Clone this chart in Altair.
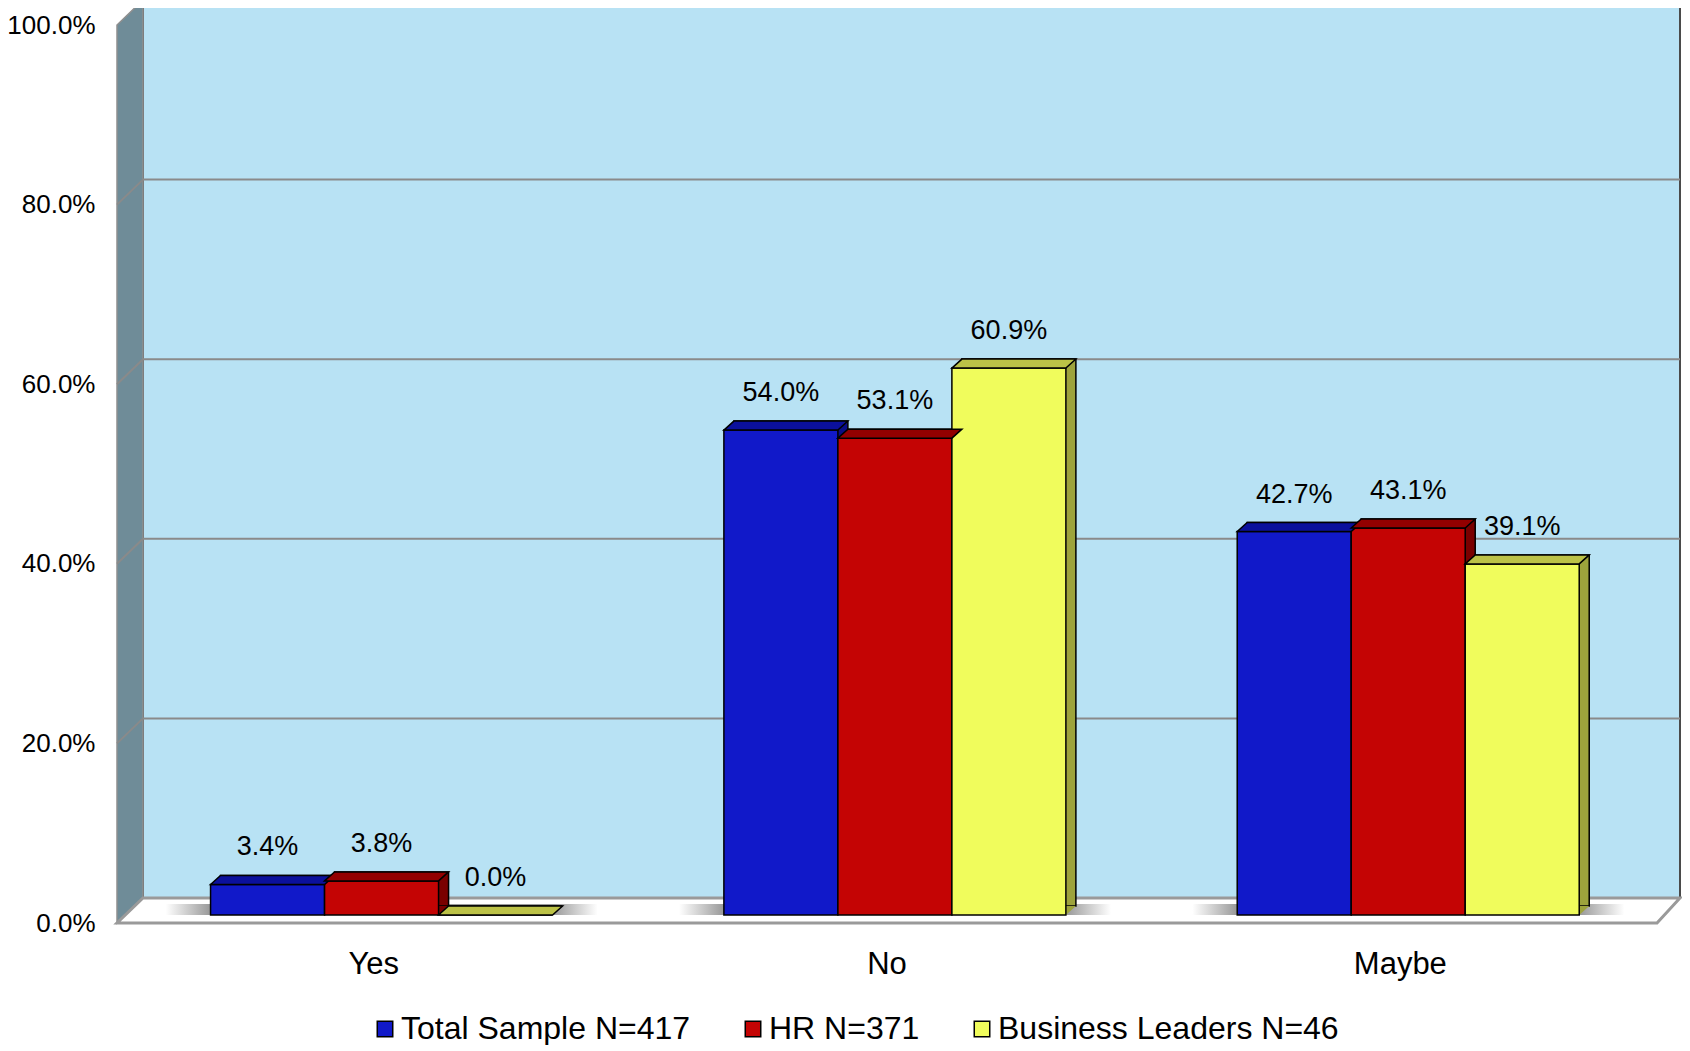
import altair as alt
import pandas as pd

# ---------------- data ----------------
categories = ["Yes", "No", "Maybe"]
series = ["Total Sample N=417", "HR N=371", "Business Leaders N=46"]
total_sample = [3.4, 54.0, 42.7]
hr = [3.8, 53.1, 43.1]
business_leaders = [0.0, 60.9, 39.1]
y_ticks = [0, 20, 40, 60, 80, 100]
grid_values = [20, 40, 60, 80]

# ---------------- style ----------------
front_colors = ["#1119c9", "#c40404", "#f0fc5c"]
top_colors = ["#0b109c", "#930000", "#bcc247"]
side_colors = ["#090d86", "#7a0000", "#9da33c"]
FONT = "Liberation Sans"

W, H = 1540, 898          # front plane (plot area)
DX, DY = 26, 25           # wall depth (left)
DX_R = 23                 # wall depth (right)
BAR_SHIFT = 8             # bar front face offset inside the depth
BDX, BDY = 10, 9          # bar depth
HALF = 57                 # half bar width (bandwidth / 3 / 2)
GROUP = 342               # group width (category bandwidth)

values_by_series = [total_sample, hr, business_leaders]
rows = []
for s, vals in zip(series, values_by_series):
    for c, v in zip(categories, vals):
        rows.append({"category": c, "series": s, "value": v,
                     "label": f"{v:.1f}%"})
df = pd.DataFrame(rows)
one = pd.DataFrame({"d": [0]})
grid_df = pd.DataFrame({"v": grid_values})
cat_df = pd.DataFrame({"category": categories})

xscale = alt.Scale(domain=categories, paddingInner=1 / 3, paddingOuter=1 / 6)
yscale = alt.Scale(domain=[0, 100], nice=False, zero=True)
xaxis = alt.Axis(title=None, domain=False, ticks=False, tickSize=0, labelAngle=0,
                 labelFontSize=31, labelFont=FONT, labelColor="black",
                 labelPadding=50, labelBaseline="alphabetic", grid=False)
yaxis = alt.Axis(title=None, domain=False, ticks=False, tickSize=0,
                 values=y_ticks, labelExpr="format(datum.value, '.1f') + '%'",
                 labelFontSize=26, labelFont=FONT, labelColor="black",
                 labelPadding=22, grid=False)
X = alt.X("category:N", sort=categories, scale=xscale, axis=xaxis)


def xoff_band(start):
    # band offsets for bar marks
    return alt.XOffset("series:N", sort=series,
                       scale=alt.Scale(type="band", domain=series,
                                       range=[start, start + GROUP],
                                       paddingInner=0, paddingOuter=0))


def xoff_point(start):
    # point offsets (bar centres) for point / text marks
    return alt.XOffset("series:N", sort=series,
                       scale=alt.Scale(type="point", domain=series,
                                       range=[start + HALF, start + GROUP - HALF],
                                       padding=0))


# back wall
back = alt.Chart(one).mark_rect(fill="#b8e2f4", stroke="#4a4a4a", strokeWidth=2).encode(
    x=alt.value(DX), x2=alt.value(W + DX_R), y=alt.value(-DY), y2=alt.value(H - DY))

back_grid = alt.Chart(grid_df).mark_rule(color="#8a8a8a", strokeWidth=2, yOffset=-DY).encode(
    y=alt.Y("v:Q", scale=yscale, axis=yaxis), x=alt.value(DX), x2=alt.value(W + DX_R))

side_wall = alt.Chart(one).mark_point(
    shape=f"M0,0 L0,{-H} L{DX},{-H - DY} L{DX},{-DY} Z", size=4, filled=True,
    fill="#6f8c98", stroke="#8f8f8f", strokeWidth=1.5, opacity=1).encode(
    x=alt.value(0), y=alt.value(H))

side_grid = alt.Chart(grid_df).mark_rule(color="#8a8a8a", strokeWidth=2, y2Offset=-DY).encode(
    y=alt.Y("v:Q", scale=yscale, axis=yaxis), y2=alt.Y2("v"), x=alt.value(0), x2=alt.value(DX))

floor = alt.Chart(one).mark_point(
    shape=f"M0,0 L{W},0 L{W + DX_R},{-DY} L{DX},{-DY} Z", size=4, filled=True,
    fill="#ffffff", stroke="#9a9a9a", strokeWidth=3, opacity=1).encode(
    x=alt.value(0), y=alt.value(H))

shadow_fill = alt.LinearGradient(
    gradient="linear", x1=0, x2=1, y1=0, y2=0,
    stops=[alt.GradientStop(offset=0, color="#ffffff"),
           alt.GradientStop(offset=0.1, color="#9c9c9c"),
           alt.GradientStop(offset=0.9, color="#9c9c9c"),
           alt.GradientStop(offset=1, color="#ffffff")])
shadows = alt.Chart(cat_df).mark_point(
    shape="M-208,-8 L224,-8 L224,-19 L-208,-19 Z", size=4, filled=True,
    fill=shadow_fill, strokeWidth=0, opacity=1).encode(x=X, y=alt.value(H))

Y = alt.Y("value:Q", scale=yscale, axis=yaxis)

side_faces = alt.Chart(df).mark_bar(
    stroke="black", strokeWidth=1.5, yOffset=-BAR_SHIFT - BDY, y2Offset=-BAR_SHIFT - BDY).encode(
    x=X, xOffset=xoff_band(BAR_SHIFT + BDX), y=Y,
    color=alt.Color("series:N", scale=alt.Scale(domain=series, range=side_colors), legend=None))

bottom_tri = alt.Chart(df).mark_point(
    shape=f"M{HALF},0 L{HALF},{-BDY} L{HALF + BDX},{-BDY} Z", size=4, filled=True,
    strokeWidth=0, opacity=1, yOffset=-BAR_SHIFT).encode(
    x=X, xOffset=xoff_point(BAR_SHIFT), y=alt.value(H),
    color=alt.Color("series:N", scale=alt.Scale(domain=series, range=side_colors), legend=None))

fronts = alt.Chart(df).mark_bar(
    stroke="black", strokeWidth=1.5, yOffset=-BAR_SHIFT, y2Offset=-BAR_SHIFT).encode(
    x=X, xOffset=xoff_band(BAR_SHIFT), y=Y,
    color=alt.Color("series:N", scale=alt.Scale(domain=series, range=front_colors),
                    legend=alt.Legend(
                        title=None, orient="none", legendX=252, legendY=988,
                        direction="horizontal", labelFontSize=32, labelFont=FONT,
                        labelColor="black", labelLimit=600, labelOffset=0,
                        symbolType="square", symbolSize=240, symbolStrokeColor="black",
                        symbolStrokeWidth=1.5, columnPadding=46)))

tops = alt.Chart(df).mark_point(
    shape=f"M{-HALF},0 L{-HALF + BDX},{-BDY} L{HALF + BDX},{-BDY} L{HALF},0 Z", size=4,
    filled=True, stroke="black", strokeWidth=1.5, opacity=1, yOffset=-BAR_SHIFT).encode(
    x=X, xOffset=xoff_point(BAR_SHIFT), y=Y,
    color=alt.Color("series:N", scale=alt.Scale(domain=series, range=top_colors), legend=None))

labels = alt.Chart(df).mark_text(
    font=FONT, fontSize=27, color="black", baseline="middle", dy=-45).encode(
    x=X, xOffset=xoff_point(BAR_SHIFT), y=Y, text="label:N")

chart = alt.layer(
    back, back_grid, side_wall, side_grid, floor, shadows,
    side_faces, bottom_tri, fronts, tops, labels
).resolve_scale(xOffset="independent", color="independent").properties(
    width=W, height=H,
    autosize=alt.AutoSizeParams(type="none"),
    padding={"left": 109, "top": 17, "right": 25, "bottom": 122},
    background="white",
).configure_view(strokeWidth=0)

chart.save("out.html", embed_options={"renderer": "svg", "actions": False})
